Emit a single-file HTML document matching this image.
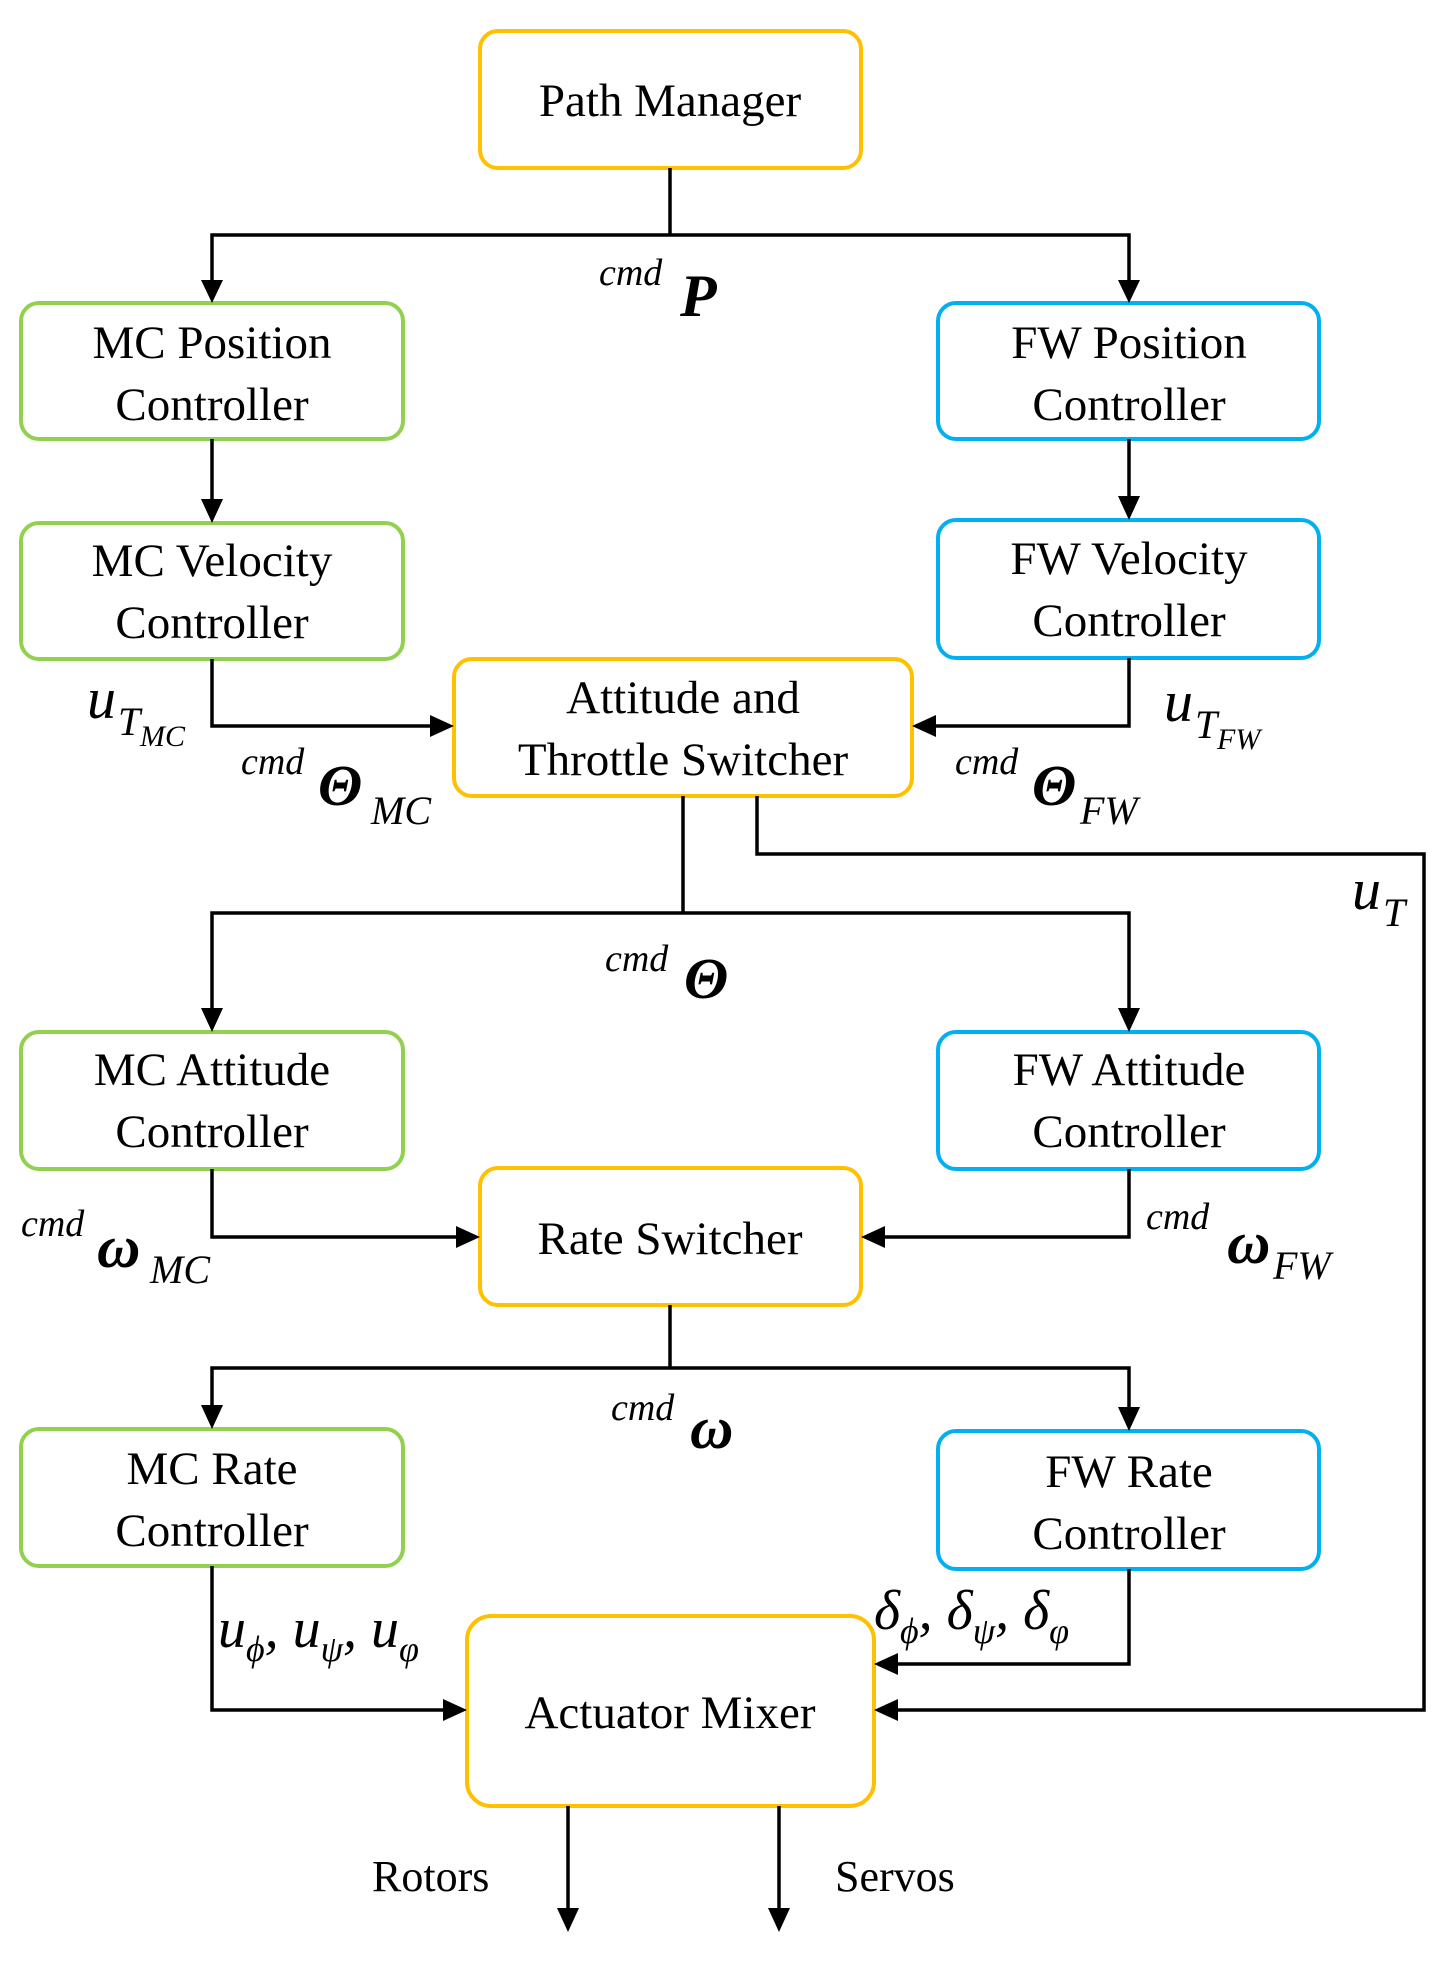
<!DOCTYPE html>
<html><head><meta charset="utf-8"><style>html,body{margin:0;padding:0;background:#fff}svg text{font-family:"Liberation Serif","DejaVu Serif",serif}</style></head>
<body>
<svg width="1448" height="1960" viewBox="0 0 1448 1960" xmlns="http://www.w3.org/2000/svg">
<g fill="none" stroke-width="4">
<rect x="480" y="31" width="381" height="137" rx="18" stroke="#FFC000"/>
<rect x="21" y="303" width="382" height="136" rx="18" stroke="#92D050"/>
<rect x="938" y="303" width="381" height="136" rx="18" stroke="#00B0F0"/>
<rect x="21" y="523" width="382" height="136" rx="18" stroke="#92D050"/>
<rect x="938" y="520" width="381" height="138" rx="18" stroke="#00B0F0"/>
<rect x="454" y="659" width="458" height="137" rx="18" stroke="#FFC000"/>
<rect x="21" y="1032" width="382" height="137" rx="18" stroke="#92D050"/>
<rect x="938" y="1032" width="381" height="137" rx="18" stroke="#00B0F0"/>
<rect x="480" y="1168" width="381" height="137" rx="18" stroke="#FFC000"/>
<rect x="21" y="1429" width="382" height="137" rx="18" stroke="#92D050"/>
<rect x="938" y="1431" width="381" height="138" rx="18" stroke="#00B0F0"/>
<rect x="467" y="1616" width="407" height="190" rx="24" stroke="#FFC000"/>
</g>
<g fill="none" stroke="#000" stroke-width="3.5">
<path d="M670,168 V235 M212,281 V235 H1129 V281"/>
<path d="M212,439 V500 M1129,439 V497"/>
<path d="M212,659 V726 H430 M1129,658 V726 H936"/>
<path d="M683,796 V913 M212,1009 V913 H1129 V1009"/>
<path d="M757,796 V854 H1424 V1710 H898"/>
<path d="M212,1169 V1237 H456 M1129,1169 V1237 H885"/>
<path d="M670,1305 V1368 M212,1406 V1368 H1129 V1408"/>
<path d="M212,1566 V1710 H443 M1129,1569 V1664 H898"/>
<path d="M568,1806 V1908 M779,1806 V1908"/>
</g>
<g fill="#000">
<path d="M201,280 L223,280 L212,303Z M1118,280 L1140,280 L1129,303Z"/>
<path d="M201,499 L223,499 L212,523Z M1118,496 L1140,496 L1129,520Z"/>
<path d="M430,715 L430,737 L454,726Z M936,715 L936,737 L912,726Z"/>
<path d="M201,1008 L223,1008 L212,1032Z M1118,1008 L1140,1008 L1129,1032Z"/>
<path d="M456,1226 L456,1248 L480,1237Z M885,1226 L885,1248 L861,1237Z"/>
<path d="M201,1405 L223,1405 L212,1429Z M1118,1407 L1140,1407 L1129,1431Z"/>
<path d="M443,1699 L443,1721 L467,1710Z M898,1653 L898,1675 L874,1664Z M898,1699 L898,1721 L874,1710Z"/>
<path d="M557,1908 L579,1908 L568,1932Z M768,1908 L790,1908 L779,1932Z"/>
</g>
<g font-size="47" text-anchor="middle" fill="#000">
<text x="670" y="116">Path Manager</text>
<text x="212" y="358">MC Position</text><text x="212" y="420">Controller</text>
<text x="1129" y="358">FW Position</text><text x="1129" y="420">Controller</text>
<text x="212" y="576">MC Velocity</text><text x="212" y="638">Controller</text>
<text x="1129" y="574">FW Velocity</text><text x="1129" y="636">Controller</text>
<text x="683" y="713">Attitude and</text><text x="683" y="775">Throttle Switcher</text>
<text x="212" y="1085">MC Attitude</text><text x="212" y="1147">Controller</text>
<text x="1129" y="1085">FW Attitude</text><text x="1129" y="1147">Controller</text>
<text x="670" y="1254">Rate Switcher</text>
<text x="212" y="1484">MC Rate</text><text x="212" y="1546">Controller</text>
<text x="1129" y="1487">FW Rate</text><text x="1129" y="1549">Controller</text>
<text x="670" y="1728">Actuator Mixer</text>
</g>
<g font-size="44" fill="#000">
<text x="372" y="1891">Rotors</text>
<text x="835" y="1891">Servos</text>
</g>
<g font-style="italic" fill="#000">
<text x="599" y="285" font-size="38">cmd</text>
<text x="680" y="316" font-size="60" font-weight="bold">P</text>
<text x="87" y="718" font-size="58">u</text><text x="118" y="735" font-size="40">T</text><text x="140" y="746" font-size="30">MC</text>
<text x="241" y="774" font-size="38">cmd</text>
<text x="318" y="805" font-size="58" font-weight="bold">Θ</text><text x="371" y="824" font-size="40">MC</text>
<text x="1164" y="721" font-size="58">u</text><text x="1195" y="738" font-size="40">T</text><text x="1217" y="749" font-size="30">FW</text>
<text x="955" y="774" font-size="38">cmd</text>
<text x="1032" y="805" font-size="58" font-weight="bold">Θ</text><text x="1080" y="824" font-size="40">FW</text>
<text x="1352" y="909" font-size="58">u</text><text x="1383" y="926" font-size="40">T</text>
<text x="605" y="971" font-size="38">cmd</text>
<text x="684" y="998" font-size="58" font-weight="bold">Θ</text>
<text x="21" y="1236" font-size="38">cmd</text>
<text x="97" y="1267" font-size="60" font-weight="bold">ω</text><text x="150" y="1283" font-size="40">MC</text>
<text x="1146" y="1229" font-size="38">cmd</text>
<text x="1227" y="1263" font-size="60" font-weight="bold">ω</text><text x="1273" y="1279" font-size="40">FW</text>
<text x="611" y="1420" font-size="38">cmd</text>
<text x="690" y="1448" font-size="60" font-weight="bold">ω</text>
<text x="218" y="1647" font-size="56">u<tspan font-size="36" dy="14">ϕ</tspan><tspan dy="-14">, u</tspan><tspan font-size="36" dy="14">ψ</tspan><tspan dy="-14">, u</tspan><tspan font-size="36" dy="14">φ</tspan></text>
<text x="874" y="1629" font-size="56">δ<tspan font-size="36" dy="14">ϕ</tspan><tspan dy="-14">, δ</tspan><tspan font-size="36" dy="14">ψ</tspan><tspan dy="-14">, δ</tspan><tspan font-size="36" dy="14">φ</tspan></text>
</g>
</svg>
</body></html>
